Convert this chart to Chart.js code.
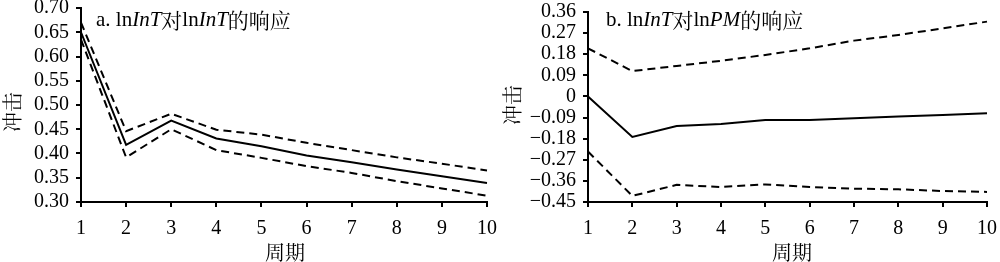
<!DOCTYPE html>
<html><head><meta charset="utf-8">
<script src="https://cdn.jsdelivr.net/npm/chart.js@4.4.0/dist/chart.umd.min.js"></script>
<style>
html,body{margin:0;padding:0;background:#fff;}
#wrap{position:relative;width:1000px;height:262px;}
.c{position:absolute;top:0;width:500px;height:262px;}
</style></head><body>
<div id="wrap">
<div class="c" style="left:0"><canvas id="ca" width="500" height="262"></canvas></div>
<div class="c" style="left:500px"><canvas id="cb" width="500" height="262"></canvas></div>
</div>
<script>
const periods = ['1','2','3','4','5','6','7','8','9','10'];
// panel a: lnInT response to lnInT
const aMid   = [0.650, 0.418, 0.468, 0.431, 0.415, 0.396, 0.382, 0.367, 0.353, 0.339];
const aUpper = [0.670, 0.446, 0.482, 0.449, 0.439, 0.422, 0.407, 0.392, 0.379, 0.365];
const aLower = [0.635, 0.392, 0.450, 0.407, 0.391, 0.374, 0.360, 0.343, 0.328, 0.313];
const aTicks = [0.30, 0.35, 0.40, 0.45, 0.50, 0.55, 0.60, 0.65, 0.70];
// panel b: lnInT response to lnPM
const bMid   = [0.000, -0.173, -0.126, -0.117, -0.100, -0.100, -0.093, -0.086, -0.079, -0.072];
const bUpper = [0.205, 0.108, 0.130, 0.152, 0.177, 0.205, 0.238, 0.262, 0.290, 0.319];
const bLower = [-0.235, -0.424, -0.377, -0.386, -0.375, -0.386, -0.393, -0.396, -0.403, -0.407];
const bTicks = [-0.45, -0.36, -0.27, -0.18, -0.09, 0, 0.09, 0.18, 0.27, 0.36];

const FONT = "'Liberation Serif','Times New Roman','Noto Sans CJK SC',serif";
const CJK = "'Noto Serif CJK SC','Noto Sans CJK SC',serif";

function fmt(v, dec){
  if (Math.abs(v) < 1e-9) return '0';
  const s = Math.abs(v).toFixed(dec);
  return v < 0 ? '\u2212' + s : s;
}

function drawRich(ctx, x, y, segs, size){
  ctx.save();
  ctx.textBaseline = 'middle';
  ctx.textAlign = 'left';
  ctx.fillStyle = '#000';
  let cx = x;
  for (const s of segs){
    ctx.font = (s.i ? 'italic ' : '') + size + 'px ' + (s.c ? CJK : FONT);
    ctx.fillText(s.t, cx, y);
    cx += ctx.measureText(s.t).width;
  }
  ctx.restore();
}

function makeChart(id, mid, up, lo, ticks, yMin, yMax, dec, leftW, top, titleSegs, titleX, yTitleY, xTitleX){
  const textPlugin = {
    id: 'txt' + id,
    afterDraw(chart){
      const ctx = chart.ctx;
      drawRich(ctx, titleX, 20, titleSegs, 21);
      ctx.save();
      ctx.fillStyle = '#000';
      ctx.font = '20px ' + CJK;
      ctx.textAlign = 'center';
      ctx.textBaseline = 'middle';
      ctx.fillText('周期', xTitleX, 252);
      ctx.translate(12, yTitleY);
      ctx.rotate(-Math.PI/2);
      ctx.fillText('冲击', 0, 0);
      ctx.restore();
    }
  };
  const ds = (data, dash) => ({
    data, borderColor:'#000', borderWidth:2, borderDash: dash, pointRadius:0,
    fill:false, tension:0
  });
  return new Chart(document.getElementById(id), {
    type:'line',
    data:{ labels: periods, datasets:[ ds(up,[8,5]), ds(mid,[]), ds(lo,[8,5]) ] },
    options:{
      responsive:false, animation:false,
      plugins:{ legend:{display:false}, tooltip:{enabled:false} },
      layout:{ padding:{ top: top, right: 13, left:0, bottom:0 } },
      scales:{
        x:{
          offset:false,
          grid:{ drawOnChartArea:false, drawTicks:true, tickLength:5, color:'#000', lineWidth:2 },
          border:{ color:'#000', width:2 },
          ticks:{ color:'#000', font:{ family:FONT, size:20 }, padding:10, maxRotation:0, autoSkip:false },
          afterFit(s){ s.height = 60; s.paddingLeft = 0; s.paddingRight = 0; }
        },
        y:{
          min:yMin, max:yMax,
          afterBuildTicks(s){ s.ticks = ticks.map(v => ({value:v})); },
          grid:{ drawOnChartArea:false, drawTicks:true, tickLength:5, color:'#000', lineWidth:2 },
          border:{ color:'#000', width:2 },
          ticks:{ color:'#000', font:{ family:FONT, size:20 }, padding:7, autoSkip:false,
                  callback:(v)=>fmt(v, dec) },
          afterFit(s){ s.width = leftW; s.paddingTop = 0; s.paddingBottom = 0; }
        }
      }
    },
    plugins:[textPlugin]
  });
}

makeChart('ca', aMid, aUpper, aLower, aTicks, 0.30, 0.70, 2, 81, 8,
  [{t:'a. ln'},{t:'InT',i:true},{t:'对',c:true},{t:'ln'},{t:'InT',i:true},{t:'的响应',c:true}],
  96, 112, 285);
makeChart('cb', bMid, bUpper, bLower, bTicks, -0.45, 0.36, 2, 88, 12,
  [{t:'b. ln'},{t:'InT',i:true},{t:'对',c:true},{t:'ln'},{t:'PM',i:true},{t:'的响应',c:true}],
  106, 105, 292);
</script>
</body></html>
